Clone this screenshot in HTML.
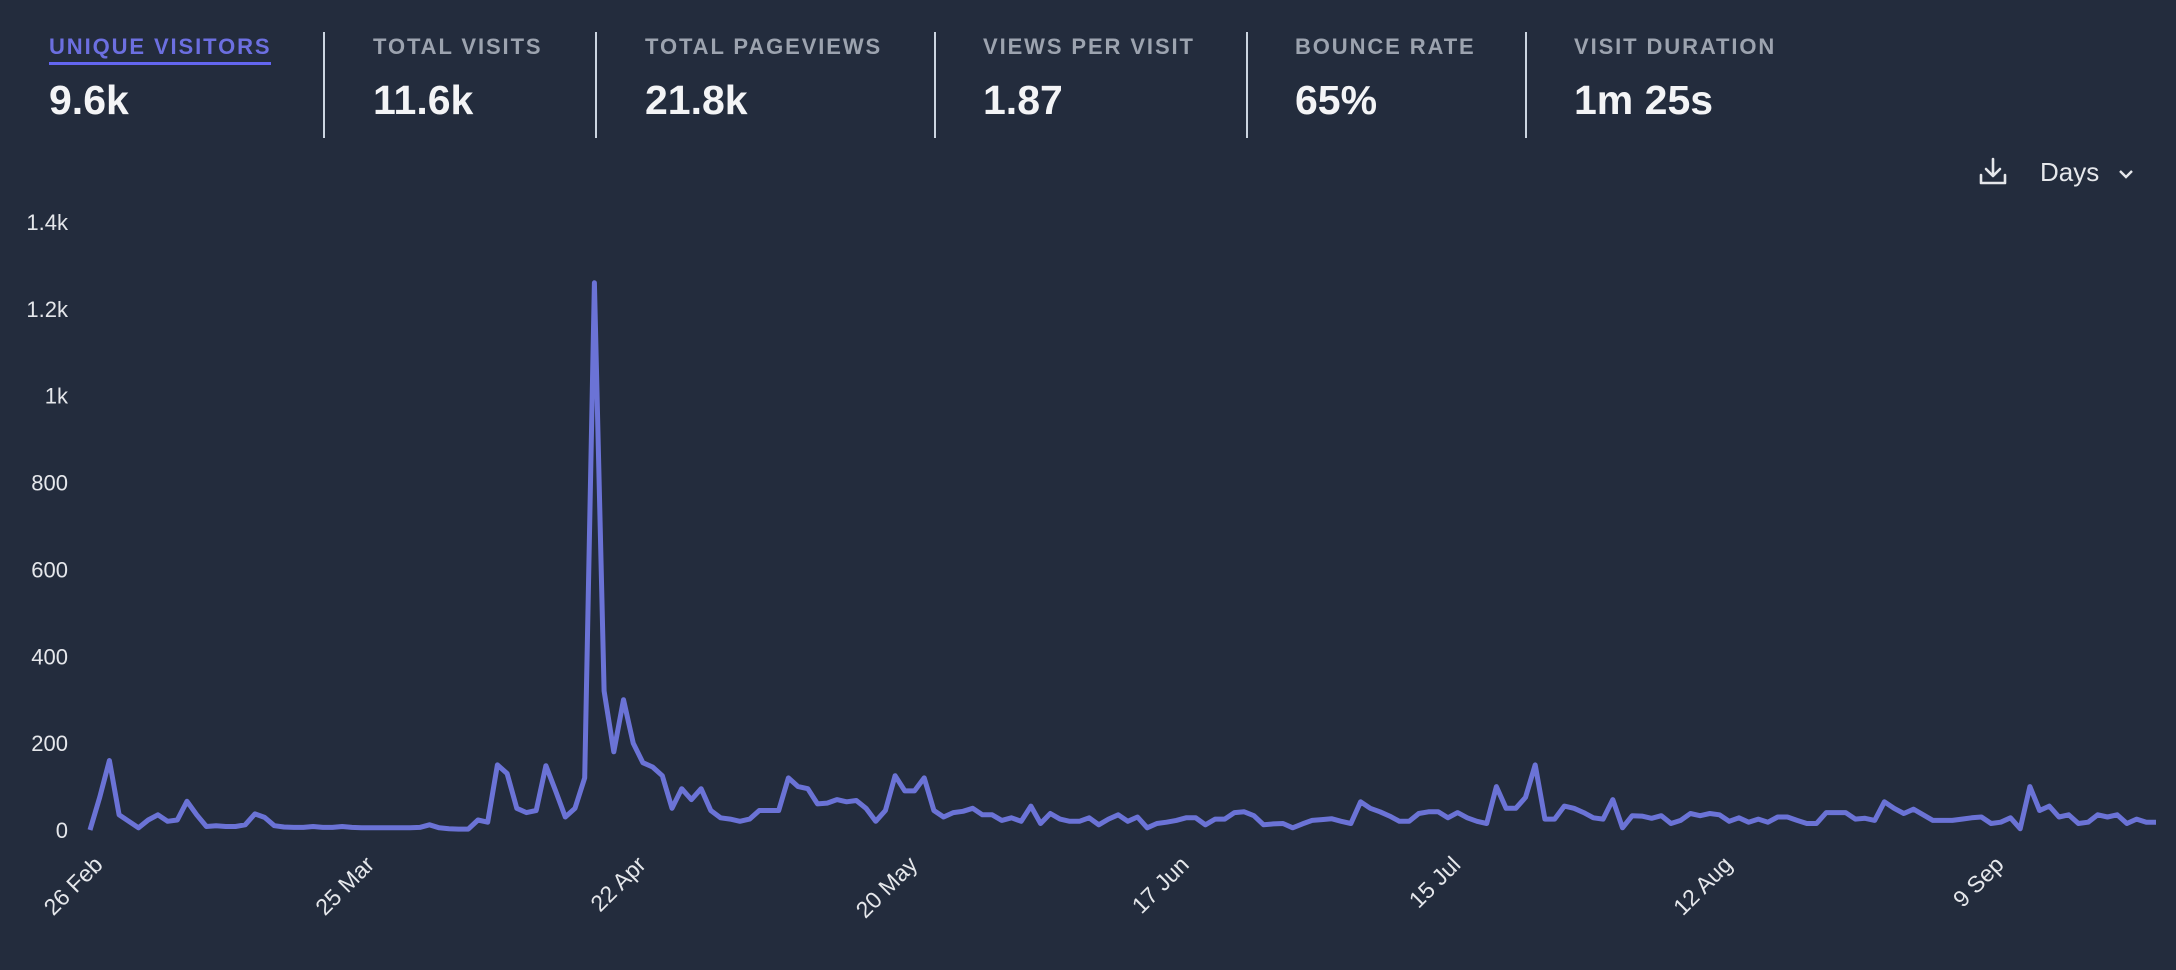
<!DOCTYPE html>
<html><head><meta charset="utf-8"><style>
body{margin:0;background:#232c3d;width:2176px;height:970px;overflow:hidden;font-family:"Liberation Sans",sans-serif}
.stat{position:absolute;top:32px}
.lbl{font-size:22px;font-weight:bold;letter-spacing:1.9px;color:#9ca3af;position:absolute;top:2px;white-space:nowrap}
.val{font-size:41px;font-weight:bold;color:#f3f4f6;position:absolute;top:45px;white-space:nowrap}
.div{position:absolute;top:32px;width:2px;height:106px;background:#cbd5e1}
</style></head><body>
<div class="stat" style="left:49px"><div class="lbl" style="color:#6c6fe0;border-bottom:3px solid #6366f1;padding-bottom:2px">UNIQUE VISITORS</div><div class="val">9.6k</div></div>
<div class="div" style="left:323px"></div>
<div class="stat" style="left:373px"><div class="lbl">TOTAL VISITS</div><div class="val">11.6k</div></div>
<div class="div" style="left:595px"></div>
<div class="stat" style="left:645px"><div class="lbl">TOTAL PAGEVIEWS</div><div class="val">21.8k</div></div>
<div class="div" style="left:934px"></div>
<div class="stat" style="left:983px"><div class="lbl">VIEWS PER VISIT</div><div class="val">1.87</div></div>
<div class="div" style="left:1246px"></div>
<div class="stat" style="left:1295px"><div class="lbl">BOUNCE RATE</div><div class="val">65%</div></div>
<div class="div" style="left:1525px"></div>
<div class="stat" style="left:1574px"><div class="lbl">VISIT DURATION</div><div class="val">1m 25s</div></div>

<svg style="position:absolute;left:1977px;top:155px" width="32" height="32" viewBox="0 0 32 32" fill="none" stroke="#e5e7eb" stroke-width="2.6" stroke-linecap="round" stroke-linejoin="round"><path d="M16 4v16M9 14l7 7 7-7M4 20v8h24v-8"/></svg>
<div style="position:absolute;left:2040px;top:157px;font-size:26px;color:#e5e7eb">Days <svg width="20" height="14" style="margin-left:10px" viewBox="0 0 20 14"><path d="M4 4l6 6 6-6" stroke="#e5e7eb" stroke-width="2.4" fill="none"/></svg></div>

<svg id="chart" width="2176" height="970" style="position:absolute;left:0;top:0;pointer-events:none"></svg>
<script>
const values=[0,75,160,35,20,5,23,35,20,23,66,35,8,10,8,8,12,37,29,10,7,6,6,8,6,6,8,6,5,5,5,5,5,5,6,12,5,3,2,2,23,18,
150,130,50,40,45,148,90,30,50,120,1260,320,180,300,200,155,145,125,50,95,70,95,45,28,25,20,25,45,45,45,120,100,95,60,62,70,65,68,50,20,45,125,90,90,120,45,
30,40,43,50,35,35,22,28,20,55,15,38,25,20,20,28,12,25,35,20,30,5,15,18,22,28,28,12,25,25,40,42,33,12,14,15,5,14,22,24,26,20,15,65,50,42,32,20,20,38,42,42,28,40,28,20,15,100,50,50,75,150,
25,25,55,50,40,28,25,70,5,33,32,27,33,15,22,38,33,38,35,20,28,18,25,18,30,30,22,15,15,40,40,40,25,27,22,65,50,38,48,35,22,22,22,25,28,30,15,18,28,3,100,45,55,30,35,15,18,35,30,35,15,25,18,18];
const yTicks=[0,200,400,600,800,1000,1200,1400];
const yTickLabels=["0","200","400","600","800","1k","1.2k","1.4k"];
const xTickIdx=[0,28,56,84,112,140,168,196];
const xTickLabels=["26 Feb","25 Mar","22 Apr","20 May","17 Jun","15 Jul","12 Aug","9 Sep"];
const svg=document.getElementById('chart');const NS='http://www.w3.org/2000/svg';
const X0=90,X1=2156,Y0=830,Y1=222,YMAX=1400;
const x=i=>X0+(X1-X0)*i/(values.length-1);
const y=v=>Y0-(Y0-Y1)*v/YMAX;
yTicks.forEach((t,k)=>{const e=document.createElementNS(NS,'text');


e.setAttribute('x',68);e.setAttribute('y',y(t)+8);e.setAttribute('text-anchor','end');e.setAttribute('font-size','22');e.setAttribute('fill','#e5e7eb');e.setAttribute('font-family','Liberation Sans, sans-serif');e.textContent=yTickLabels[k];svg.appendChild(e);});
xTickIdx.forEach((d,k)=>{const e=document.createElementNS(NS,'text');


const tx=x(d)+14,ty=866;e.setAttribute('x',tx);e.setAttribute('y',ty);e.setAttribute('text-anchor','end');e.setAttribute('transform','rotate(-45 '+tx+' '+ty+')');e.setAttribute('font-size','23');e.setAttribute('fill','#e5e7eb');e.setAttribute('font-family','Liberation Sans, sans-serif');e.textContent=xTickLabels[k];svg.appendChild(e);});
const p=document.createElementNS(NS,'polyline');


p.setAttribute('points',values.map((v,i)=>x(i).toFixed(1)+','+y(v).toFixed(1)).join(' '));
p.setAttribute('fill','none');p.setAttribute('stroke','#6b73d6');p.setAttribute('stroke-width','5');p.setAttribute('stroke-linejoin','round');
svg.appendChild(p);
</script>
</body></html>
